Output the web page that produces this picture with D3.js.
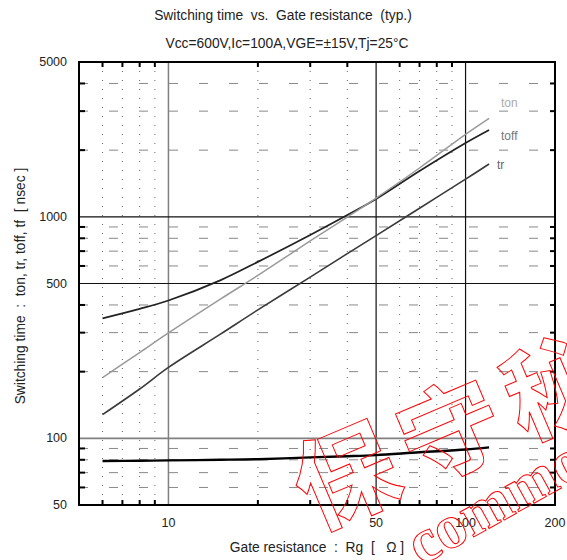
<!DOCTYPE html>
<html>
<head>
<meta charset="utf-8">
<script src="https://cdn.jsdelivr.net/npm/d3@7/dist/d3.min.js"></script>
<style>
  html, body { margin: 0; padding: 0; background: #fff; }
  svg text { font-family: "Liberation Sans", Arial, sans-serif; white-space: pre; }
</style>
</head>
<body>
<script>
// ---- data ----
const rg   = [6, 8, 10, 15, 20, 30, 40, 50, 70, 100, 120];
const ton  = [188, 244, 299, 426, 544, 778, 998, 1216, 1661, 2358, 2785];
const toff = [348, 384, 419, 518, 626, 828, 1019, 1204, 1610, 2154, 2466];
const tr   = [128, 167, 209, 296, 380, 534, 682, 823, 1093, 1479, 1732];
const tf   = [79, 79.2, 79.5, 80, 80.5, 82, 83, 84, 86.5, 89, 91];

const xTickLabels = [10, 50, 100, 200];
const yTickLabels = [50, 100, 500, 1000, 5000];
const xMajorGrid = [10, 50, 100];
const yMajorGrid = [100, 500, 1000];
const xMinor = [6, 7, 8, 9, 20, 30, 40, 60, 70, 80, 90];
const yMinor = [60, 70, 80, 90, 200, 300, 400, 600, 700, 800, 900, 2000, 3000, 4000];

const W = 567, H = 560;
const svg = d3.select("body").append("svg").attr("width", W).attr("height", H);

const L = 79, R = 555, T = 62, B = 505;
const x = d3.scaleLog().domain([5, 200]).range([L, R]);
const y = d3.scaleLog().domain([50, 5000]).range([B, T]);

// minor grid
svg.append("g").selectAll("line").data(xMinor).join("line")
  .attr("x1", d => x(d)).attr("x2", d => x(d)).attr("y1", T).attr("y2", B)
  .attr("stroke", "#666").attr("stroke-width", 1).attr("stroke-dasharray", "1,8");
svg.append("g").selectAll("line").data(yMinor).join("line")
  .attr("x1", L).attr("x2", R).attr("y1", d => y(d)).attr("y2", d => y(d))
  .attr("stroke", "#888").attr("stroke-width", 1).attr("stroke-dasharray", "9,21");

// major grid
svg.append("g").selectAll("line").data(xMajorGrid).join("line")
  .attr("x1", d => x(d)).attr("x2", d => x(d)).attr("y1", T).attr("y2", B)
  .attr("stroke", d => d === 10 ? "#808080" : "#111").attr("stroke-width", d => d === 10 ? 1.5 : 1.2);
svg.append("g").selectAll("line").data(yMajorGrid).join("line")
  .attr("x1", L).attr("x2", R).attr("y1", d => y(d)).attr("y2", d => y(d))
  .attr("stroke", d => d === 100 ? "#808080" : "#111").attr("stroke-width", d => d === 100 ? 1.8 : 1.2);

// inward ticks on all four sides
const tk = 5;
const gT = svg.append("g").attr("stroke", "#000").attr("stroke-width", 2);
xMinor.forEach(d => {
  gT.append("line").attr("x1", x(d)).attr("x2", x(d)).attr("y1", B).attr("y2", B - tk);
  gT.append("line").attr("x1", x(d)).attr("x2", x(d)).attr("y1", T).attr("y2", T + tk);
});
yMinor.forEach(d => {
  gT.append("line").attr("x1", L).attr("x2", L + tk + 1).attr("y1", y(d)).attr("y2", y(d));
  gT.append("line").attr("x1", R).attr("x2", R - tk).attr("y1", y(d)).attr("y2", y(d));
});

// curves
const line = d3.line().x(d => x(d[0])).y(d => y(d[1])).curve(d3.curveCatmullRom.alpha(0.5));
const series = [
  { v: tr,   color: "#3a3a3a", w: 1.6 },
  { v: toff, color: "#222",    w: 1.7 },
  { v: ton,  color: "#9a9a9a", w: 1.5 },
  { v: tf,   color: "#000",    w: 2.4 }
];
series.forEach(s => {
  svg.append("path").datum(rg.map((r, i) => [r, s.v[i]]))
    .attr("d", line).attr("fill", "none")
    .attr("stroke", s.color).attr("stroke-width", s.w);
});

// series labels
svg.append("text").attr("x", 501).attr("y", 107).attr("font-size", 12).attr("fill", "#aaa").text("ton");
svg.append("text").attr("x", 501).attr("y", 140).attr("font-size", 12).attr("fill", "#777").text("toff");
svg.append("text").attr("x", 497).attr("y", 169).attr("font-size", 12).attr("fill", "#666").text("tr");

// frame
svg.append("rect").attr("x", L).attr("y", T).attr("width", R - L).attr("height", B - T)
  .attr("fill", "none").attr("stroke", "#000").attr("stroke-width", 2);

// tick labels
svg.append("g").selectAll("text").data(xTickLabels).join("text")
  .attr("x", d => x(d)).attr("y", 527).attr("text-anchor", "middle")
  .attr("font-size", 12.5).attr("fill", "#222").text(d => d);
svg.append("g").selectAll("text").data(yTickLabels).join("text")
  .attr("x", 67).attr("y", d => y(d) + 4).attr("text-anchor", "end")
  .attr("font-size", 12.5).attr("fill", "#222").text(d => d);

// titles
svg.append("text").attr("x", 283).attr("y", 20).attr("text-anchor", "middle")
  .attr("font-size", 13.8).attr("fill", "#222").text("Switching time  vs.  Gate resistance  (typ.)");
svg.append("text").attr("x", 287).attr("y", 48).attr("text-anchor", "middle")
  .attr("font-size", 13.8).attr("fill", "#222").text("Vcc=600V,Ic=100A,VGE=±15V,Tj=25°C");
svg.append("text").attr("x", 317).attr("y", 552).attr("text-anchor", "middle")
  .attr("font-size", 13.8).attr("fill", "#222").text("Gate resistance  :  Rg  [   Ω ]");
svg.append("text").attr("transform", "translate(25,286) rotate(-90)").attr("text-anchor", "middle")
  .attr("font-size", 13.8).attr("fill", "#222").text("Switching time  :  ton, tr, toff, tf  [ nsec ]");

// watermark (outlined red text)
svg.append("text").attr("transform", "translate(347,477) rotate(-23)")
  .attr("x", -52).attr("y", 36)
  .style("font-family", "'Noto Sans CJK SC'").style("font-weight", "bold")
  .attr("font-size", 102)
  .attr("letter-spacing", 12)
  .attr("fill", "none").attr("stroke", "#ff0000").attr("stroke-width", 1)
  .text("保守秘密");
svg.append("text").attr("transform", "translate(421,566) rotate(-29)")
  .attr("x", 0).attr("y", 0)
  .style("font-family", "'Liberation Serif', serif").style("font-weight", "bold")
  .attr("font-size", 62)
  .attr("fill", "none").attr("stroke", "#ff0000").attr("stroke-width", 1)
  .text("commo");
</script>
</body>
</html>
